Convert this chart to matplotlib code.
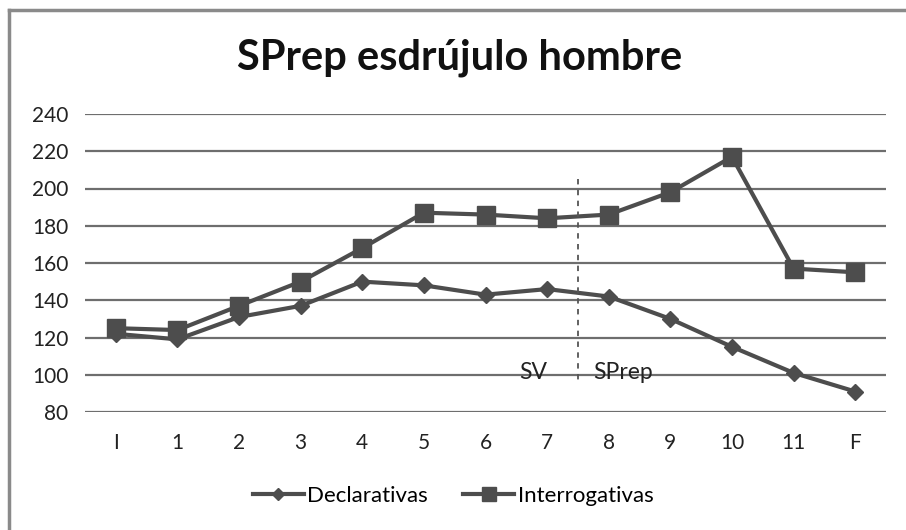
import matplotlib
matplotlib.use("Agg")
import matplotlib.pyplot as plt
from matplotlib.lines import Line2D

plt.rcParams["font.family"] = ["Lato", "DejaVu Sans"]

categories = ["I", "1", "2", "3", "4", "5", "6", "7", "8", "9", "10", "11", "F"]
declarativas = [122, 119, 131, 137, 150, 148, 143, 146, 142, 130, 115, 101, 91]
interrogativas = [125, 124, 137, 150, 168, 187, 186, 184, 186, 198, 217, 157, 155]
yticks = [80, 100, 120, 140, 160, 180, 200, 220, 240]

LINE = "#4d4d4d"

fig = plt.figure(figsize=(9.06, 5.30), dpi=100)
ax = fig.add_axes([85 / 906, 1 - 412 / 530, 801 / 906, 298 / 530])

x = list(range(len(categories)))
ax.plot(x, declarativas, color=LINE, linewidth=3, marker="D", markersize=8,
        label="Declarativas")
ax.plot(x, interrogativas, color=LINE, linewidth=3, marker="s", markersize=13,
        label="Interrogativas")

# límite SV / SPrep
ax.plot([7.5, 7.5], [205, 97], color="#555555", linestyle=(0, (3, 3)), linewidth=1.3)
ax.text(6.77, 101, "SV", ha="center", va="center", fontsize=16.5, color="#222222")
ax.text(8.23, 101, "SPrep", ha="center", va="center", fontsize=16.5, color="#222222")

ax.set_xlim(-0.5, len(categories) - 0.5)
ax.set_ylim(80, 240)
ax.set_yticks(yticks)
ax.set_xticks(x)
ax.set_xticklabels(categories)
ax.grid(axis="y", color="#6e6e6e", linewidth=1.6)
ax.set_axisbelow(True)
for s in ax.spines.values():
    s.set_visible(False)
ax.tick_params(length=0, labelsize=15, colors="#222222")
ax.tick_params(axis="x", pad=15)
ax.tick_params(axis="y", pad=12)

fig.text(460 / 906, 1 - 58 / 530, "SPrep esdrújulo hombre", ha="center", va="center",
         fontsize=30, fontweight="bold", color="#111111")

fig.legend(loc="center", bbox_to_anchor=(453 / 906, 1 - 496 / 530), ncol=2, frameon=False,
           fontsize=16, handlelength=2.3, columnspacing=1.6, handletextpad=0.15,
           markerscale=0.8)

# marco exterior (solo arriba e izquierda visibles)
fig.add_artist(Line2D([9 / 906, 9 / 906], [0, 1 - 10 / 530], color="#8a8a8a", linewidth=2.5))
fig.add_artist(Line2D([9 / 906, 1], [1 - 10 / 530, 1 - 10 / 530], color="#8a8a8a", linewidth=2.5))

fig.savefig("out.png", dpi=100)
